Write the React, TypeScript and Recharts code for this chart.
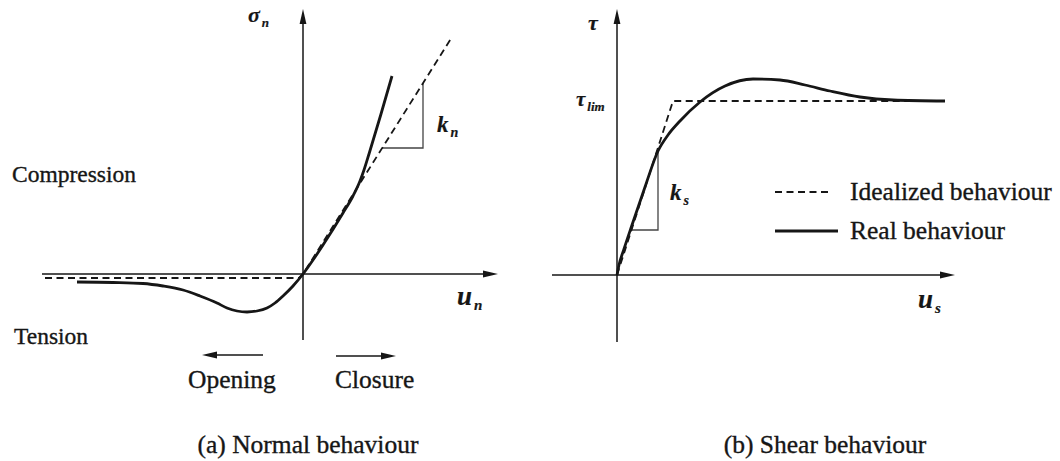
import { LineChart, Line, XAxis, YAxis, ReferenceLine, ReferenceDot, Legend } from 'recharts'

const FONT = '"Liberation Serif", "Times New Roman", serif'
const INK = '#161616'

// (a) normal behaviour: closure u_n against normal stress sigma_n
const normalReal = [
  { x: -2.26, y: -0.08 }, { x: -1.9, y: -0.085 }, { x: -1.6, y: -0.095 }, { x: -1.4, y: -0.12 },
  { x: -1.2, y: -0.16 }, { x: -1.03, y: -0.22 }, { x: -0.86, y: -0.29 }, { x: -0.76, y: -0.34 },
  { x: -0.66, y: -0.37 }, { x: -0.56, y: -0.38 }, { x: -0.46, y: -0.37 }, { x: -0.36, y: -0.34 },
  { x: -0.28, y: -0.29 }, { x: -0.2, y: -0.22 }, { x: -0.1, y: -0.12 }, { x: 0, y: 0 },
  { x: 0.1, y: 0.14 }, { x: 0.2, y: 0.29 }, { x: 0.4, y: 0.61 }, { x: 0.5, y: 0.78 },
  { x: 0.57, y: 0.93 }, { x: 0.61, y: 1.04 }, { x: 0.66, y: 1.2 }, { x: 0.78, y: 1.6 },
  { x: 0.89, y: 1.98 },
]
const normalIdeal = [
  { x: -2.58, y: -0.04 }, { x: -0.04, y: -0.04 }, { x: 0, y: 0 }, { x: 1.49, y: 2.37 },
]
const normalStiffness = [{ x: 0.79, y: 1.26 }, { x: 1.2, y: 1.26 }, { x: 1.2, y: 1.91 }]

// (b) shear behaviour: slip u_s against shear stress tau
const shearReal = [
  { x: 0, y: 0 }, { x: 0.02, y: 0.1 }, { x: 0.07, y: 0.26 }, { x: 0.15, y: 0.5 },
  { x: 0.28, y: 0.88 }, { x: 0.41, y: 1.24 }, { x: 0.51, y: 1.4 }, { x: 0.63, y: 1.54 },
  { x: 0.83, y: 1.73 }, { x: 1.08, y: 1.89 }, { x: 1.36, y: 1.96 }, { x: 1.63, y: 1.95 },
  { x: 1.88, y: 1.9 }, { x: 2.13, y: 1.84 }, { x: 2.43, y: 1.78 }, { x: 2.76, y: 1.75 },
  { x: 3.28, y: 1.74 },
]
const shearIdeal = [{ x: 0, y: 0 }, { x: 0.56, y: 1.74 }, { x: 3.24, y: 1.74 }]
const shearStiffness = [{ x: 0.135, y: 0.45 }, { x: 0.41, y: 0.45 }, { x: 0.41, y: 1.24 }]

const IDEAL = 'Idealized behaviour'
const REAL = 'Real behaviour'
const seriesStyle: Record<string, { dash?: string; width: number; len: number }> = {
  [IDEAL]: { dash: '7 4.5', width: 1.8, len: 57 },
  [REAL]: { width: 2.8, len: 63 },
}

type Pt = { x: number; y: number }
type Note = {
  x: number
  y: number
  text: string
  sub?: string
  size: number
  subSize?: number
  math?: boolean
  anchor?: 'start' | 'middle'
}

const normalArrows: Pt[][] = [
  [{ x: -2.61, y: 0 }, { x: 1.95, y: 0 }],
  [{ x: 0, y: -0.66 }, { x: 0, y: 2.65 }],
  [{ x: -0.4, y: -0.81 }, { x: -1.01, y: -0.81 }],
  [{ x: 0.33, y: -0.82 }, { x: 0.93, y: -0.82 }],
]
const shearArrows: Pt[][] = [
  [{ x: -0.65, y: 0 }, { x: 3.38, y: 0 }],
  [{ x: 0, y: -0.67 }, { x: 0, y: 2.66 }],
]

const normalNotes: Note[] = [
  { x: -0.55, y: 2.52, text: 'σ', sub: 'n', size: 22, subSize: 13, math: true },
  { x: 1.54, y: -0.31, text: 'u', sub: 'n', size: 27, subSize: 15, math: true },
  { x: 1.34, y: 1.42, text: 'k', sub: 'n', size: 23, subSize: 14, math: true },
  { x: -2.91, y: 0.92, text: 'Compression', size: 23.5 },
  { x: -2.89, y: -0.7, text: 'Tension', size: 23.5 },
  { x: -1.15, y: -1.14, text: 'Opening', size: 25.5 },
  { x: 0.32, y: -1.14, text: 'Closure', size: 25.5 },
  { x: 0.05, y: -1.79, text: '(a) Normal behaviour', size: 25.5, anchor: 'middle' },
]
const shearNotes: Note[] = [
  { x: -0.29, y: 2.45, text: 'τ', size: 22, math: true },
  { x: -0.41, y: 1.69, text: 'τ', sub: 'lim', size: 21, subSize: 13, math: true },
  { x: 0.53, y: 0.75, text: 'k', sub: 's', size: 23, subSize: 14, math: true },
  { x: 3.01, y: -0.33, text: 'u', sub: 's', size: 27, subSize: 15, math: true },
  { x: 2.08, y: -1.78, text: '(b) Shear behaviour', size: 25.5, anchor: 'middle' },
]

// line with a filled arrowhead at its second point
function ArrowShape(props: any) {
  const { x1, y1, x2, y2 } = props
  const stroke = props.stroke || INK
  const sw = props.strokeWidth || 1.5
  const ang = Math.atan2(y2 - y1, x2 - x1)
  const len = 15
  const half = 3.4
  const bx = x2 - len * Math.cos(ang)
  const by = y2 - len * Math.sin(ang)
  const px = -Math.sin(ang) * half
  const py = Math.cos(ang) * half
  return (
    <g>
      <line x1={x1} y1={y1} x2={x2 - 6 * Math.cos(ang)} y2={y2 - 6 * Math.sin(ang)} stroke={stroke} strokeWidth={sw} />
      <polygon points={`${x2},${y2} ${bx + px},${by + py} ${bx - px},${by - py}`} fill={stroke} />
    </g>
  )
}

function noteShape(n: Note) {
  return (props: any) => (
    <text
      x={props.cx}
      y={props.cy}
      fill={INK}
      stroke={INK}
      strokeWidth={n.math ? 0.2 : 0.35}
      fontFamily={FONT}
      fontSize={n.size}
      fontStyle={n.math ? 'italic' : 'normal'}
      fontWeight={n.math ? 'bold' : 'normal'}
      textAnchor={n.anchor || 'start'}
    >
      {n.text}
      {n.sub && (
        <tspan dx={2} dy={5} fontSize={n.subSize}>
          {n.sub}
        </tspan>
      )}
    </text>
  )
}

function renderNotes(notes: Note[]) {
  return notes.map((n, i) => (
    <ReferenceDot key={`note-${i}`} x={n.x} y={n.y} r={0} ifOverflow="visible" shape={noteShape(n)} />
  ))
}

function renderArrows(arrows: Pt[][]) {
  return arrows.map((seg, i) => (
    <ReferenceLine
      key={`arrow-${i}`}
      segment={seg}
      stroke={INK}
      strokeWidth={1.5}
      ifOverflow="visible"
      shape={ArrowShape}
    />
  ))
}

function SeriesKey(props: any) {
  const items = (props.payload || []).filter((p: any) => seriesStyle[p.value])
  items.sort((a: any, b: any) => (a.value === IDEAL ? -1 : b.value === IDEAL ? 1 : 0))
  return (
    <div style={{ fontFamily: FONT, color: INK, WebkitTextStroke: '0.35px #161616' }}>
      {items.map((it: any) => {
        const s = seriesStyle[it.value]
        return (
          <div key={it.value} style={{ display: 'flex', alignItems: 'center', height: 39, whiteSpace: 'nowrap' }}>
            <svg width={75} height={12}>
              <line x1={0} y1={6} x2={s.len} y2={6} stroke={INK} strokeWidth={s.width} strokeDasharray={s.dash} />
            </svg>
            <span style={{ fontSize: 25.5, lineHeight: '39px' }}>{it.value}</span>
          </div>
        )
      })}
    </div>
  )
}

const noDot = { dot: false, activeDot: false, isAnimationActive: false } as const

export default function App() {
  return (
    <div style={{ position: 'absolute', left: 0, top: 0, width: 1060, height: 461, background: '#fff', display: 'flex' }}>
      <LineChart width={530} height={461} margin={{ top: 0, right: 0, bottom: 0, left: 0 }}>
        <XAxis type="number" dataKey="x" domain={[-3.03, 2.27]} hide allowDataOverflow />
        <YAxis type="number" domain={[-1.87, 2.74]} hide allowDataOverflow />
        {renderArrows(normalArrows)}
        <Line data={normalStiffness} dataKey="y" type="linear" stroke="#444" strokeWidth={1.3} legendType="none" {...noDot} />
        <Line data={normalIdeal} dataKey="y" type="linear" stroke={INK} strokeWidth={1.8} strokeDasharray="7 4.5" {...noDot} />
        <Line data={normalReal} dataKey="y" type="monotone" stroke={INK} strokeWidth={2.8} {...noDot} />
        {renderNotes(normalNotes)}
      </LineChart>
      <LineChart width={530} height={461} margin={{ top: 0, right: 0, bottom: 0, left: 0 }}>
        <XAxis type="number" dataKey="x" domain={[-0.87, 4.43]} hide allowDataOverflow />
        <YAxis type="number" domain={[-1.86, 2.75]} hide allowDataOverflow />
        {renderArrows(shearArrows)}
        <Line data={shearStiffness} dataKey="y" type="linear" stroke="#444" strokeWidth={1.3} legendType="none" {...noDot} />
        <Line data={shearIdeal} dataKey="y" name={IDEAL} type="linear" stroke={INK} strokeWidth={1.8} strokeDasharray="7 4.5" {...noDot} />
        <Line data={shearReal} dataKey="y" name={REAL} type="monotone" stroke={INK} strokeWidth={2.8} {...noDot} />
        {renderNotes(shearNotes)}
        <Legend
          layout="vertical"
          align="center"
          verticalAlign="middle"
          content={SeriesKey}
          wrapperStyle={{ left: 245, top: 172, width: 290 }}
        />
      </LineChart>
    </div>
  )
}
